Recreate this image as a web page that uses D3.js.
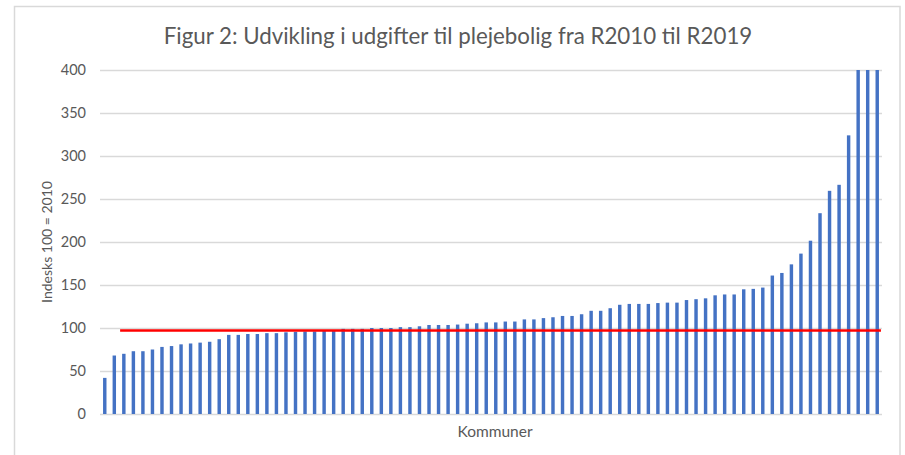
<!DOCTYPE html>
<html>
<head>
<meta charset="utf-8">
<script src="https://cdn.jsdelivr.net/npm/d3@7"></script>
<style>
  body { margin: 0; background: #fff; }
  svg { display: block; font-family: Lato, "Open Sans", sans-serif; }
</style>
</head>
<body>
<div id="chart"></div>
<script>
const title = "Figur 2: Udvikling i udgifter til plejebolig fra R2010 til R2019";
const yTitle = "Indesks 100 = 2010";
const xTitle = "Kommuner";

// one bar per kommune, sorted (no category labels shown)
const values = [
  42, 68, 70, 73, 73, 75, 78, 79, 81, 82,
  83, 84, 87, 92, 92, 93, 93, 94, 94, 95,
  95.5, 96, 96, 96.5, 97, 99, 99, 99, 100, 100,
  100, 101, 101, 102, 103.5, 103.5, 103.5, 104, 105, 105.5,
  106.5, 106.5, 107.5, 107.5, 110, 110, 111.5, 112.5, 114, 114,
  116, 120, 120, 123, 127, 128, 128, 128, 129, 129.5,
  129.5, 132.5, 133.5, 134.5, 138, 139, 139, 145, 145.5, 147,
  161, 164, 174, 186.5, 201.5, 233.5, 259.5, 266.5, 324, 400,
  400, 400
];
const categories = values.map((d, i) => i + 1);
const yTicks = [0, 50, 100, 150, 200, 250, 300, 350, 400];
const refLevel = 97; // red reference line

const width = 905, height = 455;
const plot = { left: 100, right: 882, top: 70, bottom: 414 };

const svg = d3.select("#chart")
  .append("svg")
  .attr("width", width)
  .attr("height", height);

svg.append("rect").attr("width", width).attr("height", height).attr("fill", "#fff");

// chart frame
svg.append("rect")
  .attr("x", 14.5).attr("y", 6.5)
  .attr("width", 885.5).attr("height", 470)
  .attr("fill", "none")
  .attr("stroke", "#d9d9d9")
  .attr("stroke-width", 1.5);

const x = d3.scaleBand()
  .domain(categories)
  .range([plot.left, plot.right])
  .paddingInner(0.64)
  .paddingOuter(0.32);

const y = d3.scaleLinear()
  .domain([0, 400])
  .range([plot.bottom, plot.top]);

// gridlines + tick labels
const yAxis = d3.axisLeft(y)
  .tickValues(yTicks)
  .tickSize(-(plot.right - plot.left))
  .tickPadding(14);

const gy = svg.append("g")
  .attr("transform", `translate(${plot.left},0)`)
  .call(yAxis);
gy.select(".domain").remove();
gy.selectAll(".tick line").attr("stroke", "#d9d9d9").attr("stroke-width", 1.3);
gy.selectAll(".tick text")
  .attr("fill", "#595959")
  .style("font-size", "14.5px")
  .style("font-family", "Lato, sans-serif");

// bars
svg.append("g")
  .selectAll("rect")
  .data(values)
  .join("rect")
  .attr("x", (d, i) => x(categories[i]))
  .attr("width", x.bandwidth())
  .attr("y", d => y(Math.min(d, 400)))
  .attr("height", d => y(0) - y(Math.min(d, 400)))
  .attr("fill", "#4472c4");

// red reference line
svg.append("line")
  .attr("x1", x(categories[2]) - 2)
  .attr("x2", x(categories[categories.length - 1]) + x.bandwidth() + 2)
  .attr("y1", y(refLevel))
  .attr("y2", y(refLevel))
  .attr("stroke", "#ff0000")
  .attr("stroke-width", 2.5);

// titles
svg.append("text")
  .attr("x", 458).attr("y", 44)
  .attr("text-anchor", "middle")
  .attr("fill", "#595959")
  .style("font-size", "22.3px")
  .text(title);

svg.append("text")
  .attr("transform", `translate(52, ${(plot.top + plot.bottom) / 2}) rotate(-90)`)
  .attr("text-anchor", "middle")
  .attr("fill", "#595959")
  .style("font-size", "14px")
  .text(yTitle);

svg.append("text")
  .attr("x", (plot.left + plot.right) / 2 + 4).attr("y", 437)
  .attr("text-anchor", "middle")
  .attr("fill", "#595959")
  .style("font-size", "15.5px")
  .text(xTitle);
</script>
</body>
</html>
